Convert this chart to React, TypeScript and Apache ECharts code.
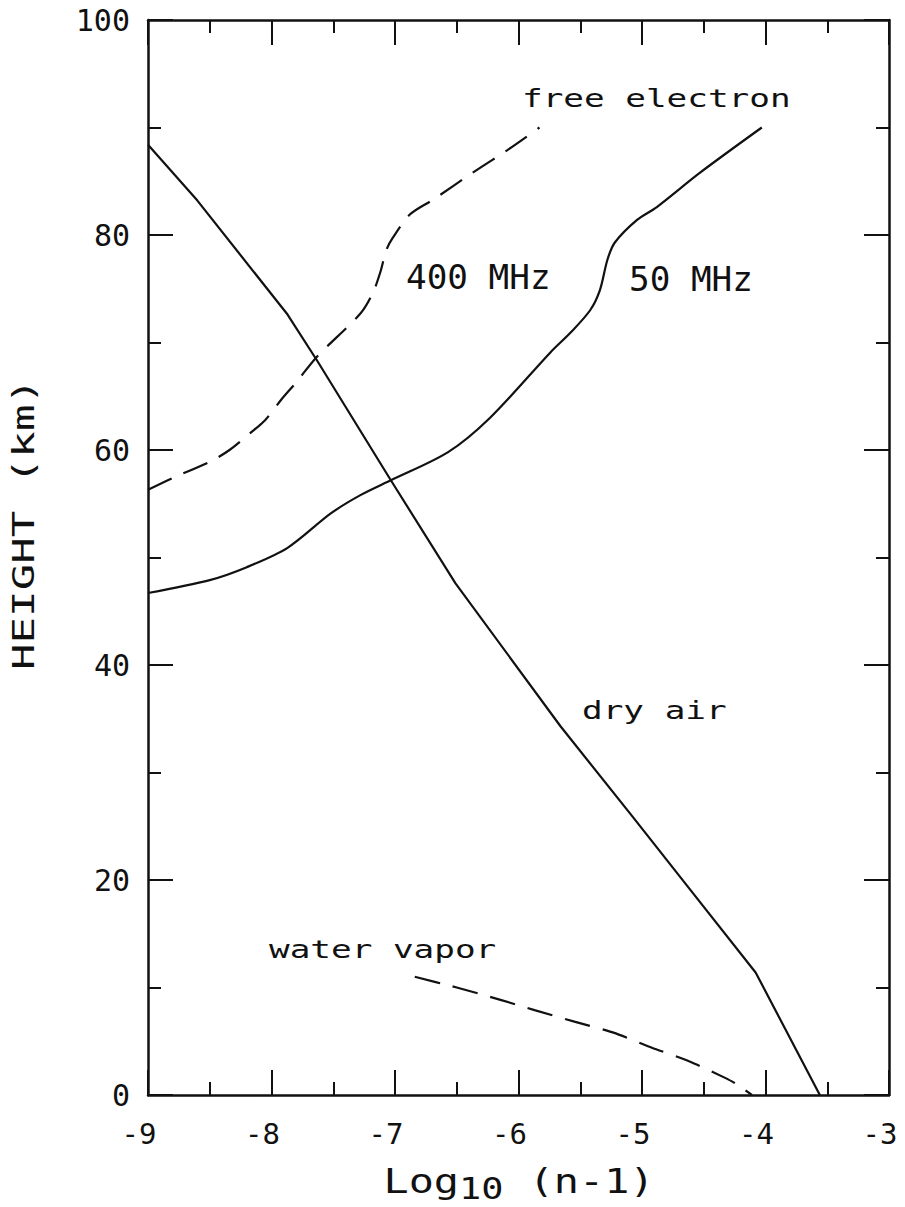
import React, { useEffect, useRef } from "react";
import * as echarts from "echarts";

// ---- data (x = log10(n-1), y = height km) ----
const dryAir: [number, number][] = [
  [-9.0, 88.4], [-8.6, 83.2], [-7.87, 72.6], [-7.63, 68.3], [-7.04, 57.3],
  [-6.51, 47.6], [-5.66, 34.3], [-5.07, 25.8], [-4.61, 19.1], [-4.08, 11.4], [-3.56, 0],
];
const mhz50: [number, number][] = [
  [-9.0, 46.7], [-8.5, 47.9], [-8.2, 49.1], [-7.87, 50.9], [-7.52, 54.1], [-7.28, 55.8],
  [-7.03, 57.2], [-6.57, 59.8], [-6.23, 63.0], [-5.74, 69.1], [-5.58, 70.9], [-5.42, 73.0],
  [-5.34, 74.9], [-5.28, 77.7], [-5.22, 79.3], [-5.04, 81.4], [-4.88, 82.6], [-4.53, 85.8],
  [-4.03, 90.0],
];
const mhz400: [number, number][] = [
  [-9.0, 56.3], [-8.8, 57.4], [-8.5, 58.9], [-8.34, 60.0], [-8.17, 61.6], [-8.05, 62.8],
  [-7.92, 64.7], [-7.8, 66.3], [-7.63, 68.7], [-7.28, 72.7], [-7.18, 74.6], [-7.12, 76.5],
  [-7.07, 78.6], [-7.02, 79.7], [-6.88, 81.9], [-6.69, 83.3], [-6.37, 85.8], [-6.09, 87.9],
  [-5.83, 90.0],
];
const waterVapor: [number, number][] = [
  [-6.84, 11.0], [-6.5, 10.0], [-6.16, 8.9], [-5.87, 7.9], [-5.54, 6.8], [-5.23, 5.8],
  [-4.92, 4.4], [-4.61, 3.1], [-4.31, 1.5], [-4.22, 0.9], [-4.11, 0],
];
const xRange = [-9, -3];
const yRange = [0, 100];
const xStep = 1;
const yStep = 20;

const FONT = "'DejaVu Sans Mono', monospace";
const INK = "#111";

function label(text: string, x: number, y: number, fontSize: number, scaleX: number) {
  return {
    type: "text",
    x,
    y,
    scaleX,
    style: {
      text,
      fill: INK,
      fontSize,
      fontFamily: FONT,
      textAlign: "left",
      textVerticalAlign: "middle",
    },
  };
}

export default function App() {
  const ref = useRef<HTMLDivElement>(null);
  useEffect(() => {
    document.body.style.margin = "0";
    if (!ref.current) return;
    const chart = echarts.init(ref.current, undefined, { renderer: "svg" });
    const axisLine = { show: true, onZero: false, lineStyle: { color: INK, width: 2.5 } };
    const axisTick = { show: true, inside: true, length: 25, lineStyle: { color: INK, width: 2 } };
    const minorTick = { show: true, splitNumber: 2, length: 13, lineStyle: { color: INK, width: 2 } };
    const common = {
      type: "value",
      axisLine,
      axisTick,
      minorTick,
      splitLine: { show: false },
      minorSplitLine: { show: false },
    };
    const lineBase = {
      type: "line",
      showSymbol: false,
      symbol: "none",
      xAxisIndex: 0,
      yAxisIndex: 0,
    };
    chart.setOption({
      animation: false,
      backgroundColor: "#fff",
      grid: { left: 148, right: 16, top: 20, bottom: 112, containLabel: false },
      xAxis: [
        {
          ...common,
          position: "bottom",
          min: xRange[0],
          max: xRange[1],
          interval: xStep,
          axisLabel: {
            color: INK,
            fontFamily: FONT,
            fontSize: 29,
            margin: 24,
            padding: [0, 18, 0, 0],
            formatter: (v: number) => String(v),
          },
        },
        {
          ...common,
          position: "top",
          min: xRange[0],
          max: xRange[1],
          interval: xStep,
          axisLabel: { show: false },
        },
      ],
      yAxis: [
        {
          ...common,
          position: "left",
          min: yRange[0],
          max: yRange[1],
          interval: yStep,
          axisLabel: { color: INK, fontFamily: FONT, fontSize: 30, margin: 18 },
        },
        {
          ...common,
          position: "right",
          min: yRange[0],
          max: yRange[1],
          interval: yStep,
          axisLabel: { show: false },
        },
      ],
      series: [
        { ...lineBase, name: "dry air", data: dryAir, lineStyle: { color: INK, width: 2.2 } },
        { ...lineBase, name: "50 MHz", data: mhz50, smooth: 0.3, lineStyle: { color: INK, width: 2.2 } },
        {
          ...lineBase,
          name: "400 MHz",
          data: mhz400,
          smooth: 0.3,
          lineStyle: { color: INK, width: 2.2, type: [26, 13] },
        },
        {
          ...lineBase,
          name: "water vapor",
          data: waterVapor,
          smooth: 0.2,
          lineStyle: { color: INK, width: 2.2, type: [26, 13] },
        },
      ],
      graphic: [
        label("free electron", 522, 99, 24, 1.43),
        label("400 MHz", 406, 278, 33, 1.04),
        label("50 MHz", 629, 280, 33, 1.04),
        label("dry air", 582, 711, 24, 1.43),
        label("water vapor", 269, 950, 24, 1.43),
        {
          type: "text",
          x: 24,
          y: 524,
          rotation: Math.PI / 2,
          scaleX: 1.47,
          style: {
            text: "HEIGHT (km)",
            fill: INK,
            fontSize: 30,
            fontFamily: FONT,
            textAlign: "center",
            textVerticalAlign: "middle",
          },
        },
        {
          type: "text",
          x: 519,
          y: 1181,
          scaleX: 1.23,
          style: {
            text: "{a|Log}{b|10}{a| (n-1)}",
            fill: INK,
            fontFamily: FONT,
            textAlign: "center",
            textVerticalAlign: "middle",
            rich: {
              a: { fontSize: 34, lineHeight: 46, fontFamily: FONT, fill: INK, verticalAlign: "middle" },
              b: { fontSize: 30, lineHeight: 30, fontFamily: FONT, fill: INK, verticalAlign: "bottom" },
            },
          },
        },
      ],
    });
    return () => chart.dispose();
  }, []);
  return (
    <div
      ref={ref}
      style={{ position: "absolute", left: 0, top: 0, width: 905, height: 1207 }}
    />
  );
}
